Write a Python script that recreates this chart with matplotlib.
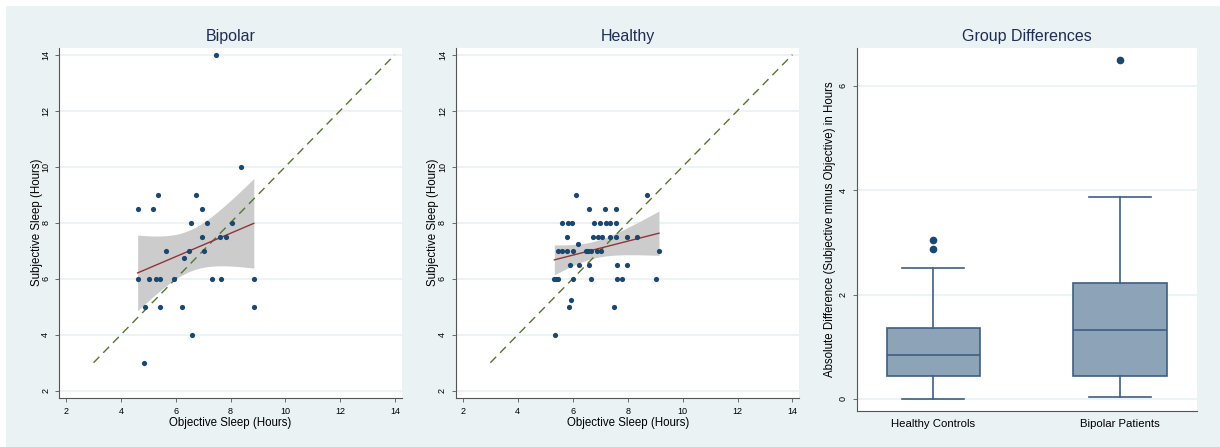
import numpy as np
import matplotlib
matplotlib.use("Agg")
import matplotlib.pyplot as plt
from matplotlib.patches import Rectangle

plt.rcParams['font.family'] = ['Liberation Sans', 'DejaVu Sans']

# Bipolar: objective vs subjective sleep (hours)
bip_obj = [7.47, 8.37, 5.34, 6.74, 4.61, 5.17, 6.95, 6.56, 7.14, 8.05,
           6.95, 7.62, 7.85, 5.64, 6.50, 7.02, 6.29, 4.61, 5.02, 5.28,
           5.43, 5.93, 7.31, 7.65, 8.85, 4.88, 5.43, 6.24, 8.85, 6.61, 4.85]
bip_subj = [14, 10, 9, 9, 8.5, 8.5, 8.5, 8, 8, 8,
            7.5, 7.5, 7.5, 7, 7, 7, 6.75, 6, 6, 6,
            6, 6, 6, 6, 6, 5, 5, 5, 5, 4, 3]

# Healthy: objective vs subjective sleep (hours)
hc_obj = [6.13, 8.71,
          6.59, 7.19, 7.56,
          5.62, 5.81, 5.97, 6.78, 7.00, 7.21, 7.35, 7.58,
          5.78, 6.75, 6.92, 7.06, 7.34, 7.56, 7.96, 8.35,
          6.20,
          5.45, 5.62, 5.78, 6.01, 6.47, 6.55, 6.65, 6.87, 7.02, 9.14,
          5.90, 6.22, 6.59, 7.62, 7.98,
          5.33, 5.40, 5.45, 6.02, 6.67, 7.62, 7.79, 9.04,
          5.94, 5.86, 7.51, 5.36]
hc_subj = [9, 9,
           8.5, 8.5, 8.5,
           8, 8, 8, 8, 8, 8, 8, 8,
           7.5, 7.5, 7.5, 7.5, 7.5, 7.5, 7.5, 7.5,
           7.25,
           7, 7, 7, 7, 7, 7, 7, 7, 7, 7,
           6.5, 6.5, 6.5, 6.5, 6.5,
           6, 6, 6, 6, 6, 6, 6, 6,
           5.25, 5, 5, 4]

# Group differences: box summary (hours)
groups = ["Healthy Controls", "Bipolar Patients"]
box_low = [0.0, 0.03]
box_q1 = [0.45, 0.45]
box_med = [0.84, 1.33]
box_q3 = [1.36, 2.23]
box_high = [2.51, 3.87]
box_fliers = [[2.87, 3.04], [6.50]]

navy = "#1a476f"
maroon = "#90353b"
green = "#55752f"
bg = "#eaf2f3"
title_col = "#1e2d53"


def fit_ci(x, y, tcrit):
    x = np.asarray(x, float)
    y = np.asarray(y, float)
    n = len(x)
    b, a = np.polyfit(x, y, 1)
    resid = y - (a + b * x)
    s = np.sqrt(np.sum(resid ** 2) / (n - 2))
    xs = np.linspace(x.min(), x.max(), 100)
    se = s * np.sqrt(1 / n + (xs - x.mean()) ** 2 / np.sum((x - x.mean()) ** 2))
    yh = a + b * xs
    return xs, yh, yh - tcrit * se, yh + tcrit * se


def scatter_panel(ax, x, y, title, tcrit):
    ax.set_facecolor("white")
    xs, yh, lo, hi = fit_ci(x, y, tcrit)
    ax.fill_between(xs, lo, hi, color="#cccccc", lw=0, zorder=1)
    ax.plot(xs, yh, color=maroon, lw=1, zorder=3)
    ax.plot([3, 14], [3, 14], color=green, lw=1, ls=(0, (6, 4)), zorder=2)
    ax.scatter(x, y, s=14, color=navy, zorder=4, linewidths=0)
    ax.set_xlim(1.75, 14.25)
    ax.set_ylim(1.75, 14.25)
    ax.set_xticks(range(2, 15, 2))
    ax.set_yticks(range(2, 15, 2))
    ax.set_title(title, fontsize=11.5, color=title_col, pad=5)
    ax.set_xlabel("Objective Sleep (Hours)", fontsize=8.3, labelpad=1)
    ax.set_ylabel("Subjective Sleep (Hours)", fontsize=8.3, labelpad=-1)


fig = plt.figure(figsize=(12.2, 4.47), dpi=100, facecolor="white")
# light graph region with thin white margin at top and left
fig.patches.append(Rectangle((6 / 1220, 0), 1, 441 / 447, transform=fig.transFigure,
                             facecolor=bg, edgecolor="none", zorder=-10))
ax1 = fig.add_axes([59.3 / 1220, 49.3 / 447, 342.4 / 1220, 350 / 447])
ax2 = fig.add_axes([456 / 1220, 49.3 / 447, 343.3 / 1220, 350 / 447])
ax3 = fig.add_axes([856.7 / 1220, 36 / 447, 340 / 1220, 363.3 / 447])

scatter_panel(ax1, bip_obj, bip_subj, "Bipolar", 2.045)
scatter_panel(ax2, hc_obj, hc_subj, "Healthy", 2.01)

# box plot
stats = []
for i, g in enumerate(groups):
    stats.append(dict(label=g, whislo=box_low[i], q1=box_q1[i], med=box_med[i],
                      q3=box_q3[i], whishi=box_high[i], fliers=box_fliers[i]))
ax3.set_facecolor("white")
ax3.bxp(stats, positions=[1, 2], widths=0.5, capwidths=0.33, patch_artist=True,
        boxprops=dict(facecolor="#8da3b8", edgecolor="#3e5e80", lw=1.2),
        medianprops=dict(color="#3e5e80", lw=1.2),
        whiskerprops=dict(color="#3e5e80", lw=1.2),
        capprops=dict(color="#3e5e80", lw=1.2),
        flierprops=dict(marker="o", markersize=4.5, markerfacecolor=navy,
                        markeredgecolor=navy))
ax3.set_xlim(0.59, 2.41)
ax3.set_ylim(-0.23, 6.73)
ax3.set_yticks([0, 2, 4, 6])
ax3.set_title("Group Differences", fontsize=11.5, color=title_col, pad=5)
ax3.set_ylabel("Absolute Difference (Subjective minus Objective) in Hours", fontsize=8.3, labelpad=2)
ax3.tick_params(axis="x", length=0, labelsize=8.2, pad=6)

for ax in (ax1, ax2, ax3):
    ax.grid(axis="y", color=bg, lw=1.3)
    ax.set_axisbelow(True)
    for s in ("top", "right"):
        ax.spines[s].set_visible(False)
    for s in ("left", "bottom"):
        ax.spines[s].set_color("#555555")
        ax.spines[s].set_linewidth(0.8)
    ax.tick_params(axis="y", labelrotation=90, labelsize=6.5, length=3, width=0.6, color="#555555")
for ax in (ax1, ax2):
    ax.tick_params(axis="x", labelsize=6.5, length=3, width=0.6, color="#555555")
for lab in ax1.get_yticklabels() + ax2.get_yticklabels() + ax3.get_yticklabels():
    lab.set_va("center")

fig.savefig("out.png", dpi=100, facecolor="white")
